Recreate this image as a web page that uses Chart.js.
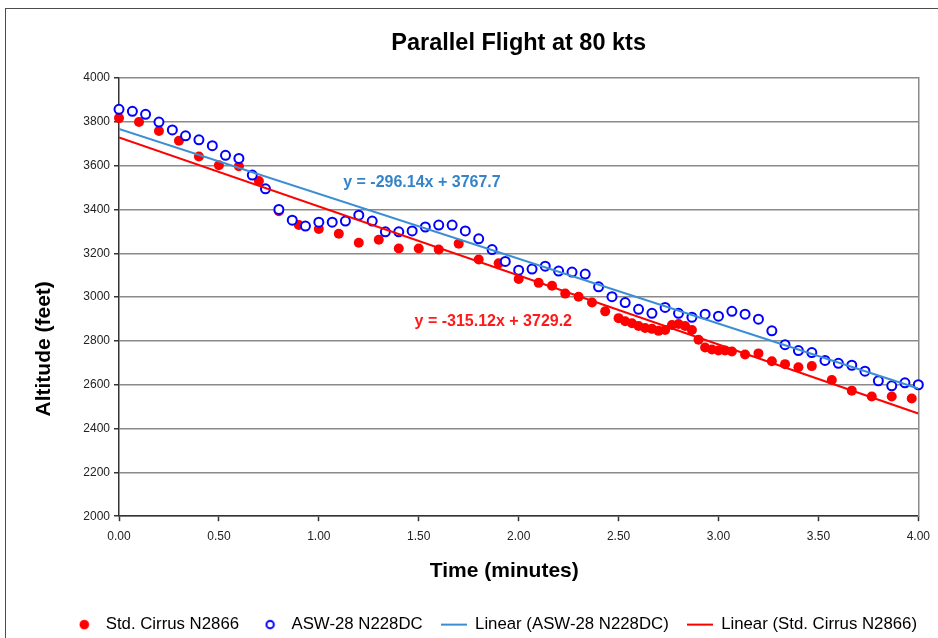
<!DOCTYPE html>
<html><head><meta charset="utf-8">
<script src="https://cdn.jsdelivr.net/npm/chart.js@4"></script>
<style>
html,body{margin:0;padding:0;background:#fff;overflow:hidden}
#wrap{position:relative;width:938px;height:638px;background:#fff}
#frame{position:absolute;left:5px;top:8px;width:960px;height:660px;border:1.5px solid #4d4d4d;box-sizing:border-box;pointer-events:none}
canvas{position:absolute;left:0;top:0}
</style></head><body>
<div id="wrap"><canvas id="c" width="938" height="638"></canvas><div id="frame"></div></div>
<script>
// ---- data ----
const chartTitle = 'Parallel Flight at 80 kts';
const xAxisTitle = 'Time (minutes)';
const yAxisTitle = 'Altitude (feet)';

const cirrusLabel = 'Std. Cirrus N2866';
const cirrusTime = [0, 0.1, 0.2, 0.3, 0.4, 0.5, 0.6, 0.7, 0.8, 0.9, 1.0, 1.1, 1.2, 1.3, 1.4, 1.5, 1.6, 1.7, 1.8, 1.9, 2.0,
  2.1, 2.167, 2.233, 2.3, 2.367, 2.433,
  2.5, 2.533, 2.567, 2.6, 2.633, 2.667, 2.7, 2.733, 2.767, 2.8, 2.833, 2.867, 2.9, 2.933, 2.967, 3.0, 3.033, 3.067,
  3.133, 3.2, 3.267, 3.333, 3.4, 3.467,
  3.567, 3.667, 3.767, 3.867, 3.967];
const cirrusAlt = [3817, 3799, 3758, 3714, 3642, 3602, 3597, 3530, 3392, 3329,
  3311, 3289, 3248, 3262, 3222, 3222, 3217, 3244, 3172, 3154,
  3083, 3065, 3052, 3016, 3002, 2975, 2935, 2904, 2890, 2881,
  2868, 2859, 2855, 2846, 2850, 2873, 2877, 2868, 2850, 2805,
  2770, 2761, 2756, 2756, 2752, 2738, 2743, 2707, 2694, 2680,
  2685, 2622, 2573, 2546, 2546, 2537];

const aswLabel = 'ASW-28 N228DC';
const aswTime = [0, 0.067, 0.133, 0.2, 0.267, 0.333, 0.4, 0.467, 0.533, 0.6,
  0.667, 0.733, 0.8, 0.867, 0.933, 1.0, 1.067, 1.133, 1.2, 1.267,
  1.333, 1.4, 1.467, 1.533, 1.6, 1.667, 1.733, 1.8, 1.867, 1.933,
  2.0, 2.067, 2.133, 2.2, 2.267, 2.333, 2.4, 2.467, 2.533, 2.6,
  2.667, 2.733, 2.8, 2.867, 2.933, 3.0, 3.067, 3.133, 3.2, 3.267,
  3.333, 3.4, 3.467, 3.533, 3.6, 3.667, 3.733, 3.8, 3.867, 3.933, 4.0];
const aswAlt = [3857, 3848, 3834, 3799, 3763, 3736, 3718, 3691, 3647, 3633,
  3557, 3494, 3400, 3351, 3324, 3342, 3342, 3347, 3374, 3347,
  3298, 3298, 3302, 3320, 3329, 3329, 3302, 3266, 3217, 3163,
  3123, 3128, 3141, 3119, 3114, 3105, 3047, 3002, 2975, 2944,
  2926, 2953, 2926, 2908, 2922, 2913, 2935, 2922, 2899, 2846,
  2783, 2756, 2747, 2711, 2698, 2689, 2662, 2618, 2595, 2609, 2600];

// trendlines as shown by their equations (slope, intercept)
const aswTrendLabel = 'Linear (ASW-28 N228DC)';
const aswTrendCoef = [-296.14, 3767.7];
const cirrusTrendLabel = 'Linear (Std. Cirrus N2866)';
const cirrusTrendCoef = [-315.12, 3729.2];
const trendRange = [0, 4];

const eqTexts = ['y = -296.14x + 3767.7', 'y = -315.12x + 3729.2'];
const eqAnchorTime = [1.516, 1.873];
const eqAnchorAlt = [3521, 2886];
const eqColors = ['#3584c8', '#ff1a1a'];

const xTicksMinMax = [0, 4];
const yTicksMinMax = [2000, 4000];

// ---- build ----
const FONT = '"Liberation Sans", Arial, Helvetica, sans-serif';
const RED = '#ff0000', BLUE = '#0000ff', TREND_BLUE = '#3b8ed3';
const pts = (xs, ys) => xs.map((v, i) => ({x: v, y: ys[i]}));
const trend = c => trendRange.map(t => ({x: t, y: c[0] * t + c[1]}));

function markerCanvas(w, h, draw) {
  const c = document.createElement('canvas');
  c.width = w; c.height = h;
  draw(c.getContext('2d'));
  return c;
}
const legendMarkers = [
  markerCanvas(11, 11, g => { g.fillStyle = RED; g.beginPath(); g.arc(5.5, 5.5, 4.8, 0, 2 * Math.PI); g.fill(); }),
  markerCanvas(11, 11, g => { g.strokeStyle = BLUE; g.lineWidth = 2; g.beginPath(); g.arc(5.5, 5.5, 3.7, 0, 2 * Math.PI); g.stroke(); }),
  markerCanvas(26, 4, g => { g.fillStyle = TREND_BLUE; g.fillRect(0, 1, 26, 2); }),
  markerCanvas(26, 4, g => { g.fillStyle = RED; g.fillRect(0, 1, 26, 2); })
];

const overlay = {
  id: 'overlay',
  afterDraw(chart) {
    const {ctx, scales} = chart;
    ctx.save();
    ctx.textAlign = 'center';
    ctx.textBaseline = 'middle';
    ctx.font = 'bold 16px ' + FONT;
    eqTexts.forEach((t, i) => {
      ctx.fillStyle = eqColors[i];
      ctx.fillText(t, scales.x.getPixelForValue(eqAnchorTime[i]), scales.y.getPixelForValue(eqAnchorAlt[i]));
    });
    ctx.fillStyle = '#000';
    ctx.font = 'bold 21px ' + FONT;
    const ca = chart.chartArea;
    ctx.fillText(xAxisTitle, ca.left + ca.width * 0.482, ca.bottom + 55);
    ctx.translate(ca.left - 75, ca.top + ca.height * 0.618);
    ctx.rotate(-Math.PI / 2);
    ctx.fillText(yAxisTitle, 0, 0);
    ctx.restore();
  }
};

new Chart(document.getElementById('c'), {
  type: 'scatter',
  data: {
    datasets: [
      {label: cirrusLabel, data: pts(cirrusTime, cirrusAlt), order: 4, clip: false,
       pointStyle: 'circle', pointRadius: 5, pointHoverRadius: 5,
       backgroundColor: RED, borderColor: RED, borderWidth: 0},
      {label: aswLabel, data: pts(aswTime, aswAlt), order: 3, clip: false,
       pointStyle: 'circle', pointRadius: 4.5, pointHoverRadius: 4.5,
       backgroundColor: '#ffffff', borderColor: BLUE, borderWidth: 2},
      {label: aswTrendLabel, data: trend(aswTrendCoef), order: 2, showLine: true,
       pointRadius: 0, pointStyle: 'line', pointBorderWidth: 2,
       borderColor: TREND_BLUE, backgroundColor: TREND_BLUE, borderWidth: 2},
      {label: cirrusTrendLabel, data: trend(cirrusTrendCoef), order: 1, showLine: true,
       pointRadius: 0, pointStyle: 'line', pointBorderWidth: 2,
       borderColor: RED, backgroundColor: RED, borderWidth: 2}
    ]
  },
  options: {
    responsive: false,
    animation: false,
    devicePixelRatio: 1,
    layout: {padding: {top: 0, left: 0, right: 3, bottom: -5}},
    plugins: {
      tooltip: {enabled: false},
      title: {display: true, text: chartTitle, color: '#000', fullSize: false,
        font: {family: FONT, size: 23.5, weight: 'bold', lineHeight: 1.2},
        padding: {top: 29.9, bottom: 19.9}},
      legend: {position: 'bottom', align: 'end', fullSize: true,
        labels: {usePointStyle: true, pointStyleWidth: 26, boxHeight: 6, padding: 18,
          color: '#000', font: {family: FONT, size: 16.8},
          generateLabels: chart => Chart.defaults.plugins.legend.labels.generateLabels(chart)
            .map(item => Object.assign({}, item, {pointStyle: legendMarkers[item.datasetIndex]})),
          sort: (a, b) => a.datasetIndex - b.datasetIndex}}
    },
    scales: {
      x: {type: 'linear', min: xTicksMinMax[0], max: xTicksMinMax[1],
        afterFit: s => { s.height = 82; },
        border: {display: true, color: '#333', width: 1.5},
        grid: {drawOnChartArea: false, drawTicks: true, tickLength: 5, tickColor: '#333', tickWidth: 1.5},
        ticks: {stepSize: 0.5, padding: 8, color: '#222', maxRotation: 0,
          font: {family: FONT, size: 12}, callback: v => Number(v).toFixed(2)}},
      y: {type: 'linear', min: yTicksMinMax[0], max: yTicksMinMax[1],
        afterFit: s => { s.width = 119; },
        border: {display: true, color: '#333', width: 1.5},
        grid: {color: '#8a8a8a', lineWidth: 1.5, tickLength: 5, tickColor: '#333', tickWidth: 1.5},
        ticks: {stepSize: 200, padding: 4, color: '#222',
          font: {family: FONT, size: 12}, callback: v => String(v)}},
      y2: {type: 'linear', position: 'right', display: true,
        afterFit: s => { s.width = 15; },
        border: {display: true, color: '#8a8a8a', width: 1.5},
        grid: {display: false, drawTicks: false},
        ticks: {display: false}}
    }
  },
  plugins: [overlay]
});
</script>
</body></html>
